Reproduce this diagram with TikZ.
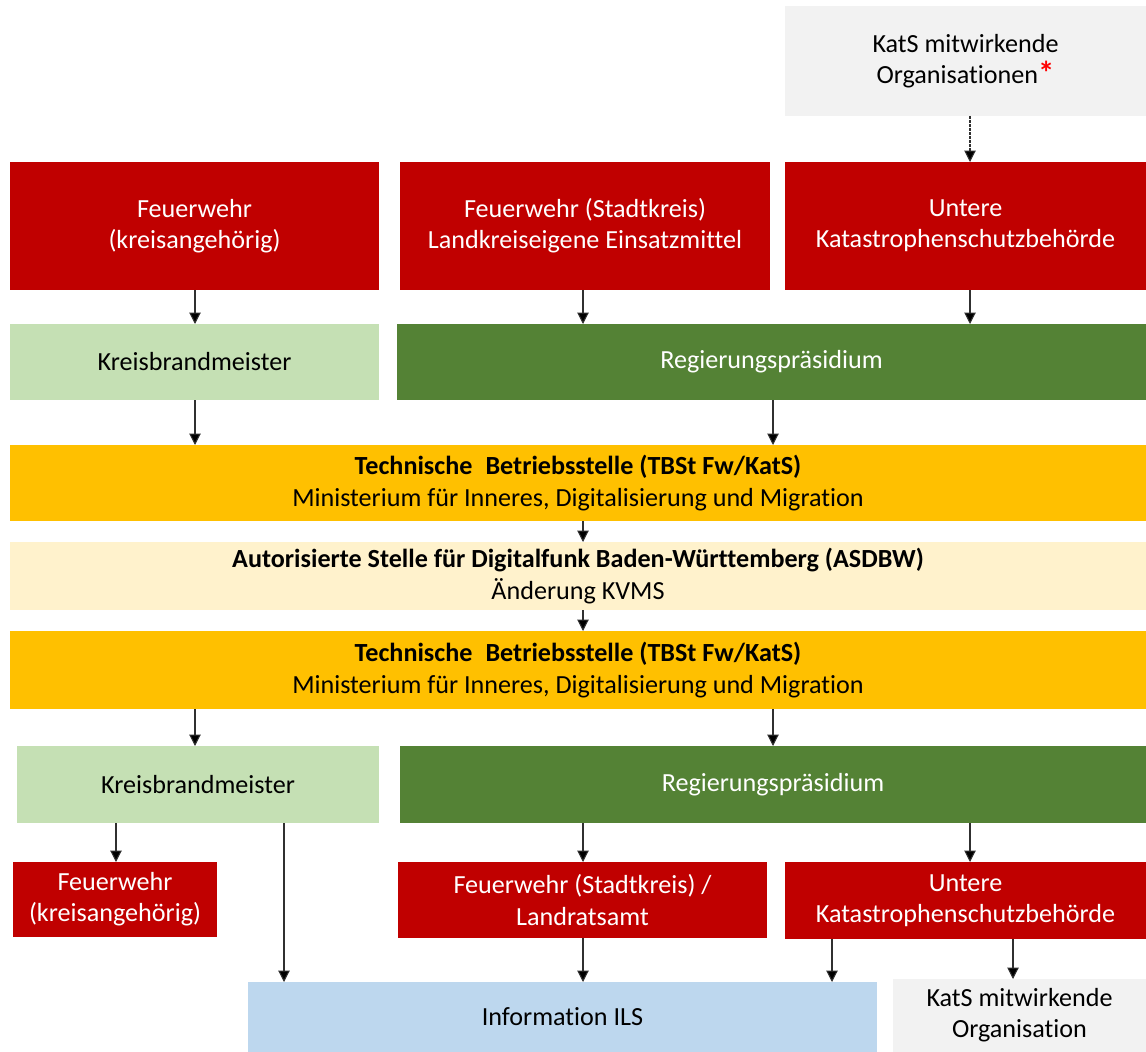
\documentclass[tikz,border=0pt]{standalone}
\usepackage{fontspec}
\setmainfont{Carlito}[Ligatures=NoCommon]
\usetikzlibrary{arrows.meta}
\definecolor{cRed}{HTML}{C00000}
\definecolor{cLGreen}{HTML}{C5E0B4}
\definecolor{cDGreen}{HTML}{548235}
\definecolor{cOrange}{HTML}{FFC000}
\definecolor{cCream}{HTML}{FFF2CC}
\definecolor{cBlue}{HTML}{BDD7EE}
\definecolor{cGray}{HTML}{F2F2F2}
\definecolor{cLine}{HTML}{303030}
\newcommand\mybox[7]{%
  \pgfmathsetmacro\cx{(#2+#4)/2}\pgfmathsetmacro\cy{(#3+#5)/2}%
  \pgfmathsetmacro\ww{(#4-#2)*0.75}\pgfmathsetmacro\hh{(#5-#3)*0.75}%
  \node[#6, minimum width=\ww pt, minimum height=\hh pt] (#1) at (\cx,\cy) {#7};}
\newcommand\redstar{{\color{red}\bfseries\raisebox{-0.05em}{\scalebox{1.25}{*}}}}
\begin{document}
\begin{tikzpicture}[x=0.75pt,y=-0.75pt,
  base/.style={draw=none, inner sep=0pt, outer sep=0pt, align=center,
    font=\fontsize{19.6}{23.4}\selectfont},
  redbox/.style={base, fill=cRed, text=white},
  lgbox/.style={base, fill=cLGreen, text=black},
  dgbox/.style={base, fill=cDGreen, text=white},
  orbox/.style={base, fill=cOrange, text=black},
  crbox/.style={base, fill=cCream, text=black},
  blbox/.style={base, fill=cBlue, text=black},
  grbox/.style={base, fill=cGray, text=black},
  arr/.style={draw=cLine, line width=0.8pt, -{Triangle[width=8.5pt,length=8.5pt,fill=black]}},
  darr/.style={arr, dash pattern=on 2pt off 1pt}]
\useasboundingbox (0,0) rectangle (1146,1052);

\mybox{kats1}{785}{6}{1146}{116}{grbox}{KatS mitwirkende\\Organisationen\redstar}
\mybox{fw1}{10}{162}{379}{290}{redbox}{\fontsize{19.6}{25.5}\selectfont Feuerwehr\\(kreisangehörig)}
\mybox{fws1}{400}{162}{770}{290}{redbox}{\fontsize{19.6}{25.5}\selectfont Feuerwehr (Stadtkreis)\\Landkreiseigene Einsatzmittel}
\mybox{uk1}{785}{162}{1146}{290}{redbox}{\fontsize{19.6}{25.5}\selectfont Untere\\Katastrophenschutzbehörde}
\mybox{kbm1}{10}{324}{379}{400}{lgbox}{Kreisbrandmeister}
\mybox{rp1}{397}{324}{1146}{400}{dgbox}{Regierungspräsidium}
\mybox{tb1}{10}{445}{1146}{521}{orbox}{\textbf{Technische\hspace{0.5em}Betriebsstelle (TBSt Fw/KatS)}\\Ministerium für Inneres, Digitalisierung und Migration}
\mybox{asd}{10}{542}{1146}{610}{crbox}{\textbf{Autorisierte Stelle für Digitalfunk Baden-Württemberg (ASDBW)}\\Änderung KVMS}
\mybox{tb2}{10}{631}{1146}{709}{orbox}{\textbf{Technische\hspace{0.5em}Betriebsstelle (TBSt Fw/KatS)}\\Ministerium für Inneres, Digitalisierung und Migration}
\mybox{kbm2}{17}{746}{379}{823}{lgbox}{Kreisbrandmeister}
\mybox{rp2}{400}{746}{1146}{823}{dgbox}{Regierungspräsidium}
\mybox{fw2}{13}{862}{217}{937}{redbox}{Feuerwehr\\(kreisangehörig)}
\mybox{fws2}{398}{862}{767}{938}{redbox}{Feuerwehr (Stadtkreis) /\\Landratsamt}
\mybox{uk2}{785}{862}{1146}{939}{redbox}{Untere\\Katastrophenschutzbehörde}
\mybox{ils}{248}{982}{877}{1052}{blbox}{Information ILS}
\mybox{kats2}{893}{979}{1146}{1052}{grbox}{KatS mitwirkende\\Organisation}

\coordinate (xa) at (116,0);
\coordinate (xb) at (195,0);
\coordinate (xc) at (284,0);
\coordinate (xd) at (583,0);
\coordinate (xe) at (773,0);
\coordinate (xf) at (832,0);
\coordinate (xg) at (970,0);
\coordinate (xh) at (1013,0);

\draw[darr] (kats1.south -| xg) -- (uk1.north -| xg);
\draw[arr] (fw1.south -| xb) -- (kbm1.north -| xb);
\draw[arr] (fws1.south -| xd) -- (rp1.north -| xd);
\draw[arr] (uk1.south -| xg) -- (rp1.north -| xg);
\draw[arr] (kbm1.south -| xb) -- (tb1.north -| xb);
\draw[arr] (rp1.south -| xe) -- (tb1.north -| xe);
\draw[arr] (tb1.south -| xd) -- (asd.north -| xd);
\draw[arr] (asd.south -| xd) -- (tb2.north -| xd);
\draw[arr] (tb2.south -| xb) -- (kbm2.north -| xb);
\draw[arr] (tb2.south -| xe) -- (rp2.north -| xe);
\draw[arr] (kbm2.south -| xa) -- (fw2.north -| xa);
\draw[arr] (kbm2.south -| xc) -- (ils.north -| xc);
\draw[arr] (rp2.south -| xd) -- (fws2.north -| xd);
\draw[arr] (rp2.south -| xg) -- (uk2.north -| xg);
\draw[arr] (fws2.south -| xd) -- (ils.north -| xd);
\draw[arr] (uk2.south -| xf) -- (ils.north -| xf);
\draw[arr] (uk2.south -| xh) -- (kats2.north -| xh);
\end{tikzpicture}
\end{document}
